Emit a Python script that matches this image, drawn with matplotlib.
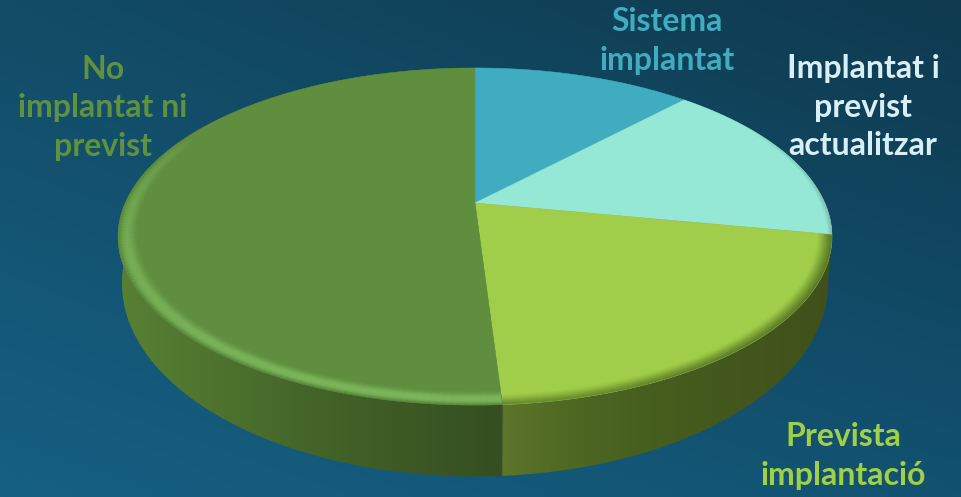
#ploting
import numpy as np
import matplotlib
matplotlib.use("Agg")
import matplotlib.pyplot as plt
from matplotlib.patches import Polygon
from matplotlib.collections import LineCollection

labels = ["Sistema\nimplantat", "Implantat i\nprevist\nactualitzar", "Prevista\nimplantació", "No\nimplantat ni\nprevist"]
values = [12, 16, 21, 51]

top_colors = ["#3FACC0", "#96E8D6", "#A0CE4A", "#5F8F3E"]
text_colors = ["#3FACC0", "#D8F0F5", "#A2CF48", "#5F9140"]
text_pos = [(667, 41), (863, 107), (843, 456), (103, 108)]

# perspective of the disc
k = 0.199
a = 161.9
cx = 475


def top_xy(theta, r=1.0):
    # theta in degrees, clockwise from 12 o'clock
    t = np.radians(theta)
    u, v = r * np.sin(t), r * np.cos(t)
    return np.column_stack((cx + 349.8 * u / (1 + k * v), 203 - a * v / (1 + k * v)))


def bottom_xy(theta):
    t = np.radians(theta)
    u, v = np.sin(t), np.cos(t)
    return np.column_stack((cx + 346 * u / (1 + k * v), 245 - 1.145 * a * v / (1 + k * v)))


def gradient(ax, stops, clip):
    # horizontal colour ramp, stops = [(x, rgb), ...]
    xs = np.arange(0, 962)
    px = [s[0] for s in stops]
    img = np.stack([np.interp(xs, px, [s[1][i] for s in stops]) for i in range(3)], axis=-1)[None, :, :] / 255
    im = ax.imshow(img, extent=(0, 962, 497, 0), aspect="auto", zorder=2)
    im.set_clip_path(clip)


def rim(ax, theta0, theta1, clip, color, profile, fade):
    # thin arcs near the edge to fake the bevel
    th = np.linspace(theta0, theta1, 160)
    mid = (th[:-1] + th[1:]) / 2
    rgb = np.array(matplotlib.colors.to_rgb(color))
    for r in np.linspace(0.93, 1.0, 36):
        pts = top_xy(th, r)
        segs = np.stack((pts[:-1], pts[1:]), axis=1)
        cols = np.zeros((len(segs), 4))
        cols[:, :3] = rgb
        cols[:, 3] = np.clip(profile(r) * fade(mid), 0, 1)
        lc = LineCollection(segs, colors=cols, linewidths=1.6, zorder=4, capstyle="butt")
        ax.add_collection(lc)
        lc.set_clip_path(clip)


fig = plt.figure(figsize=(9.62, 4.97), dpi=100)
ax = fig.add_axes([0, 0, 1, 1])
ax.set_xlim(0, 962)
ax.set_ylim(497, 0)
ax.axis("off")

# background
tl, tr = np.array([18, 76, 102]), np.array([15, 58, 80])
bl, br = np.array([22, 96, 132]), np.array([18, 82, 112])
yy, xx = np.mgrid[0:1:60j, 0:1:100j]
bg = ((1 - yy) * (1 - xx))[..., None] * tl + ((1 - yy) * xx)[..., None] * tr
bg = bg + (yy * (1 - xx))[..., None] * bl + (yy * xx)[..., None] * br
ax.imshow(bg / 255, extent=(0, 962, 497, 0), aspect="auto", zorder=0, interpolation="bilinear")

edges = np.concatenate(([0], np.cumsum(values))) * 360 / sum(values)

# side walls of the two front slices
wall_stops = {
    2: [(500, (94, 118, 42)), (560, (80, 105, 36)), (650, (70, 94, 30)), (830, (64, 80, 27))],
    3: [(118, (88, 128, 52)), (210, (78, 116, 46)), (330, (66, 98, 40)), (470, (56, 82, 34)), (500, (54, 78, 32))],
}
for i, stops in wall_stops.items():
    end = min(edges[i + 1], 285)
    th = np.linspace(edges[i], end, 200)
    poly = np.vstack((top_xy(th), bottom_xy(th)[::-1]))
    patch = Polygon(poly, closed=True, facecolor="none", edgecolor="none", transform=ax.transData)
    ax.add_patch(patch)
    gradient(ax, stops, patch)
ax.set_xlim(0, 962)
ax.set_ylim(497, 0)

# top faces
faces = []
for i, col in enumerate(top_colors):
    th = np.linspace(edges[i], edges[i + 1], 200)
    poly = np.vstack(([[cx, 203]], top_xy(th)))
    p = Polygon(poly, closed=True, facecolor=col, edgecolor=col, linewidth=0.4, zorder=3)
    ax.add_patch(p)
    faces.append(p)

# bevel: light ridge on the big slice, dark falloff on the others
rim(ax, edges[3], 330, faces[3], "#86C266",
    lambda r: 0.3 * np.exp(-((r - 0.975) / 0.018) ** 2),
    lambda t: np.clip((300 - t) / 50, 0, 1))
rim(ax, edges[3], 330, faces[3], "#4F7836",
    lambda r: np.clip((r - 0.99) / 0.01, 0, 1) * 0.12,
    lambda t: np.clip((290 - t) / 50, 0, 1))
rim(ax, edges[2], edges[3], faces[2], "#465E1E",
    lambda r: np.clip((r - 0.96) / 0.04, 0, 1) ** 1.5 * 0.42,
    lambda t: np.clip(1.0 - (t - 110) / 110, 0.5, 1))
rim(ax, edges[1], edges[2], faces[1], "#5E7F80",
    lambda r: np.clip((r - 0.988) / 0.012, 0, 1) * 0.14,
    lambda t: np.clip((t - 60) / 35, 0, 1))

for lab, col, pos in zip(labels, text_colors, text_pos):
    ax.text(pos[0], pos[1], lab, color=col, fontsize=23, family="Lato", fontweight="bold",
            ha="center", va="center", linespacing=1.38, zorder=6)

fig.savefig("out.png", dpi=100)
